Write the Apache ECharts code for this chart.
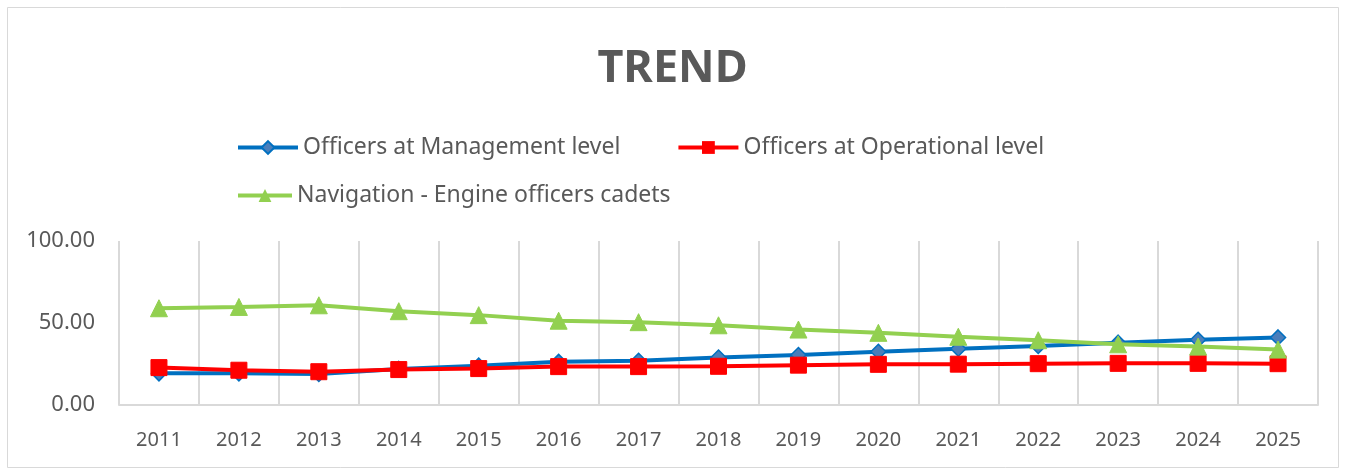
<!DOCTYPE html>
<html>
<head>
<meta charset="utf-8">
<script src="https://cdn.jsdelivr.net/npm/echarts@6/dist/echarts.min.js"></script>
<style>html,body{margin:0;padding:0;background:#fff}#c{width:1345px;height:470px}</style>
</head>
<body>
<div id="c"></div>
<script>
const years = ['2011','2012','2013','2014','2015','2016','2017','2018','2019','2020','2021','2022','2023','2024','2025'];
const management = [19.3, 19.3, 18.9, 22.0, 24.0, 26.3, 27.0, 29.0, 30.5, 32.5, 34.3, 36.0, 38.0, 39.8, 41.2];
const operational = [22.8, 21.2, 20.3, 21.6, 22.2, 23.4, 23.4, 23.6, 24.3, 24.8, 24.9, 25.2, 25.4, 25.4, 25.2];
const cadets = [59.0, 59.8, 60.8, 57.2, 54.8, 51.4, 50.5, 48.6, 46.0, 44.0, 41.6, 39.5, 37.0, 35.6, 33.8];
const yTicks = [0, 50, 100];
const names = ['Officers at Management level', 'Officers at Operational level', 'Navigation - Engine officers cadets'];

const chart = echarts.init(document.getElementById('c'));
const txt = '#595959';
const font = 'Noto Sans';
chart.setOption({
  animation: false,
  backgroundColor: '#fff',
  title: {
    text: 'TREND', left: 'center', top: 42,
    textStyle: { fontFamily: font, fontSize: 45, fontWeight: 'bold', color: txt }
  },
  graphic: [{ type: 'rect', shape: { x: 7.5, y: 7.5, width: 1331, height: 460 }, style: { fill: 'none', stroke: '#d9d9d9', lineWidth: 1 }, silent: true }],
  legend: [
    { data: [names[0], names[1]], left: 236, top: 136, padding: 0, itemWidth: 60, itemHeight: 16, itemGap: 56,
      lineStyle: { width: 4 },
      textStyle: { fontFamily: font, fontSize: 23, color: txt } },
    { data: [names[2]], left: 236, top: 184, padding: 0, itemWidth: 54, itemHeight: 16,
      lineStyle: { width: 4 },
      textStyle: { fontFamily: font, fontSize: 23, color: txt } }
  ],
  grid: { left: 119, right: 27, top: 241, bottom: 65 },
  xAxis: {
    type: 'category', data: years, boundaryGap: true,
    axisLine: { lineStyle: { color: '#d9d9d9', width: 2 } },
    axisTick: { show: false },
    splitLine: { show: true, lineStyle: { color: '#d9d9d9', width: 2 } },
    axisLabel: { fontFamily: font, fontSize: 20, color: txt, margin: 25, interval: 0 }
  },
  yAxis: {
    type: 'value', min: yTicks[0], max: yTicks[yTicks.length - 1], interval: 50,
    axisLine: { show: false }, axisTick: { show: false },
    splitLine: { show: false },
    axisLabel: { fontFamily: font, fontSize: 22, color: txt, margin: 24, formatter: v => v.toFixed(2) }
  },
  series: [
    { name: names[0], type: 'line', data: management, symbol: 'diamond', symbolSize: 15,
      lineStyle: { color: '#0070C0', width: 4 },
      itemStyle: { color: '#4A7EBB', borderColor: '#0070C0', borderWidth: 1.5 }, z: 2 },
    { name: names[1], type: 'line', data: operational, symbol: 'rect', symbolSize: 16,
      lineStyle: { color: '#FF0000', width: 4 },
      itemStyle: { color: '#FF0000', borderColor: '#FF0000' }, z: 3 },
    { name: names[2], type: 'line', data: cadets, symbol: 'triangle', symbolSize: 17,
      lineStyle: { color: '#92D050', width: 4 },
      itemStyle: { color: '#92D050', borderColor: '#92D050' }, z: 4 }
  ]
});
</script>
</body>
</html>
